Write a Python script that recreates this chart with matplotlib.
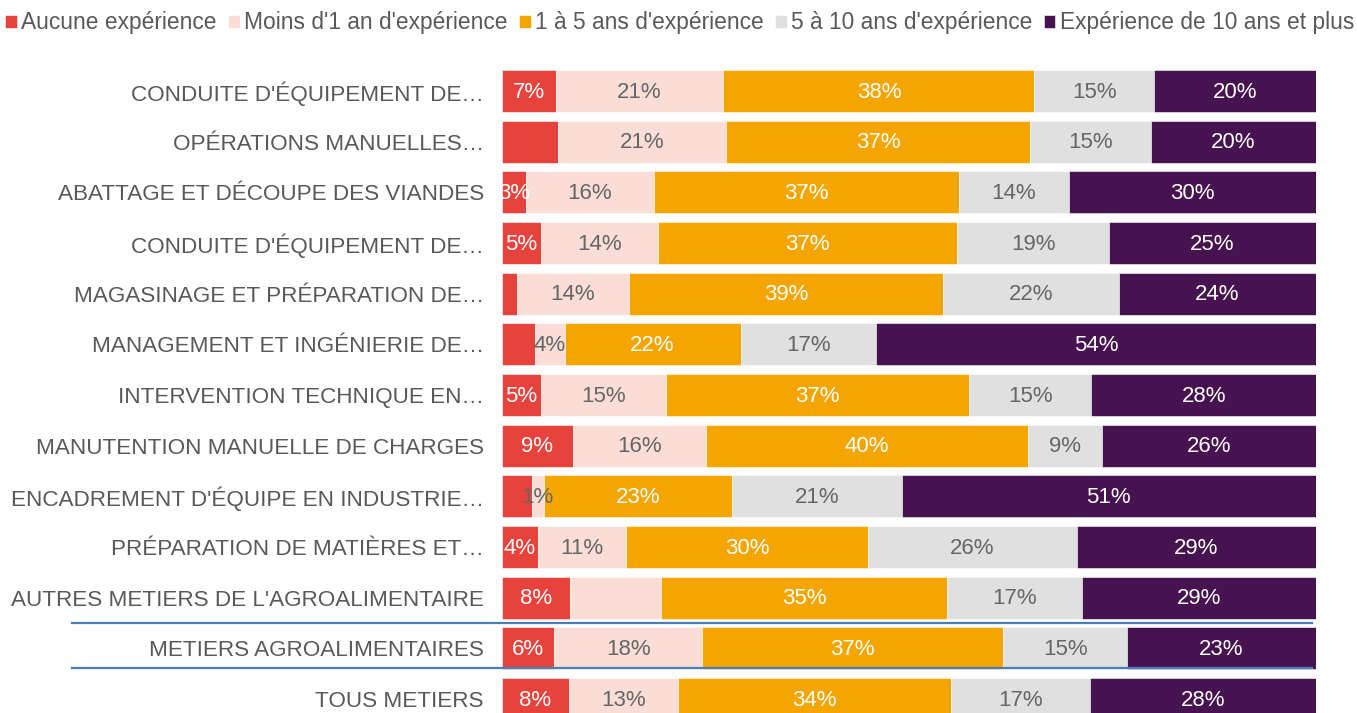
import matplotlib.pyplot as plt
import numpy as np

# Catégories (de haut en bas)
metiers = ["CONDUITE D'ÉQUIPEMENT DE…",
           "OPÉRATIONS MANUELLES…",
           "ABATTAGE ET DÉCOUPE DES VIANDES",
           "CONDUITE D'ÉQUIPEMENT DE…",
           "MAGASINAGE ET PRÉPARATION DE…",
           "MANAGEMENT ET INGÉNIERIE DE…",
           "INTERVENTION TECHNIQUE EN…",
           "MANUTENTION MANUELLE DE CHARGES",
           "ENCADREMENT D'ÉQUIPE EN INDUSTRIE…",
           "PRÉPARATION DE MATIÈRES ET…",
           "AUTRES METIERS DE L'AGROALIMENTAIRE",
           "METIERS AGROALIMENTAIRES",
           "TOUS METIERS"]

# Parts en % par niveau d'expérience
aucune     = [6.6, 6.9, 2.9, 4.8, 1.8, 4.1, 4.8, 8.7, 3.7, 4.4, 8.4, 6.4, 8.2]
moins_1an  = [20.6, 20.6, 15.8, 14.4, 13.8, 3.6, 15.4, 16.3, 1.4, 10.8, 11.1, 18.2, 13.4]
de_1_a_5   = [38.2, 37.4, 37.4, 36.7, 38.6, 21.6, 37.2, 39.6, 23.2, 29.8, 35.2, 37.0, 33.6]
de_5_a_10  = [14.7, 14.8, 13.6, 18.7, 21.6, 16.6, 15.0, 9.1, 20.8, 25.6, 16.6, 15.2, 17.0]
plus_10    = [19.9, 20.3, 30.3, 25.4, 24.2, 54.1, 27.6, 26.3, 50.9, 29.4, 28.7, 23.2, 27.8]

series = ['Aucune expérience', "Moins d'1 an d'expérience", "1 à 5 ans d'expérience",
          "5 à 10 ans d'expérience", 'Expérience de 10 ans et plus']
couleurs = ['#E8423D', '#FADDD6', '#F5A500', '#E0E0E0', '#46124F']
couleurs_texte = ['white', '#666666', 'white', '#666666', 'white']

# Étiquettes masquées (ligne, série)
masquer = [(1, 0), (4, 0), (5, 0), (8, 0), (10, 1)]

plt.rcParams['font.family'] = ['Liberation Sans', 'DejaVu Sans']

fig = plt.figure(figsize=(13.57, 7.13), dpi=100)
ax = fig.add_axes([502 / 1357, 0, 814 / 1357, 653 / 713])

valeurs = [aucune, moins_1an, de_1_a_5, de_5_a_10, plus_10]
y = np.arange(len(metiers))
gauche = np.zeros(len(metiers))
for j, (vals, nom) in enumerate(zip(valeurs, series)):
    vals = np.array(vals)
    ax.barh(y, vals, left=gauche, height=0.83, color=couleurs[j], label=nom,
            edgecolor='white', linewidth=0.4)
    for i, v in enumerate(vals):
        if (i, j) in masquer:
            continue
        ax.text(gauche[i] + v / 2, y[i] + 0.02, f"{round(v):.0f}%", ha='center', va='center',
                fontsize=16, color=couleurs_texte[j])
    gauche += vals

ax.set_xlim(0, 100)
ax.set_ylim(12.276, -0.612)
ax.set_yticks(y)
ax.set_yticklabels(metiers, fontsize=16.2, color='#595959')
ax.tick_params(axis='y', length=0, pad=13)
ax.set_xticks([])
for s in ax.spines.values():
    s.set_visible(False)

# Lignes bleues autour de METIERS AGROALIMENTAIRES
trans = ax.get_yaxis_transform()
for yl in [10.5, 11.39]:
    ax.plot([-0.528, 0.995], [yl, yl], color='#4A7EBB', linewidth=1.6,
            transform=trans, clip_on=False, zorder=5)

fig.legend(loc='center', bbox_to_anchor=(0.501, 0.968), ncol=5, frameon=False,
           fontsize=16.4, handlelength=0.5, handleheight=0.5, handletextpad=0.2,
           columnspacing=0.5, labelcolor='#595959', borderpad=0.1)

plt.savefig('out.png', dpi=100)
